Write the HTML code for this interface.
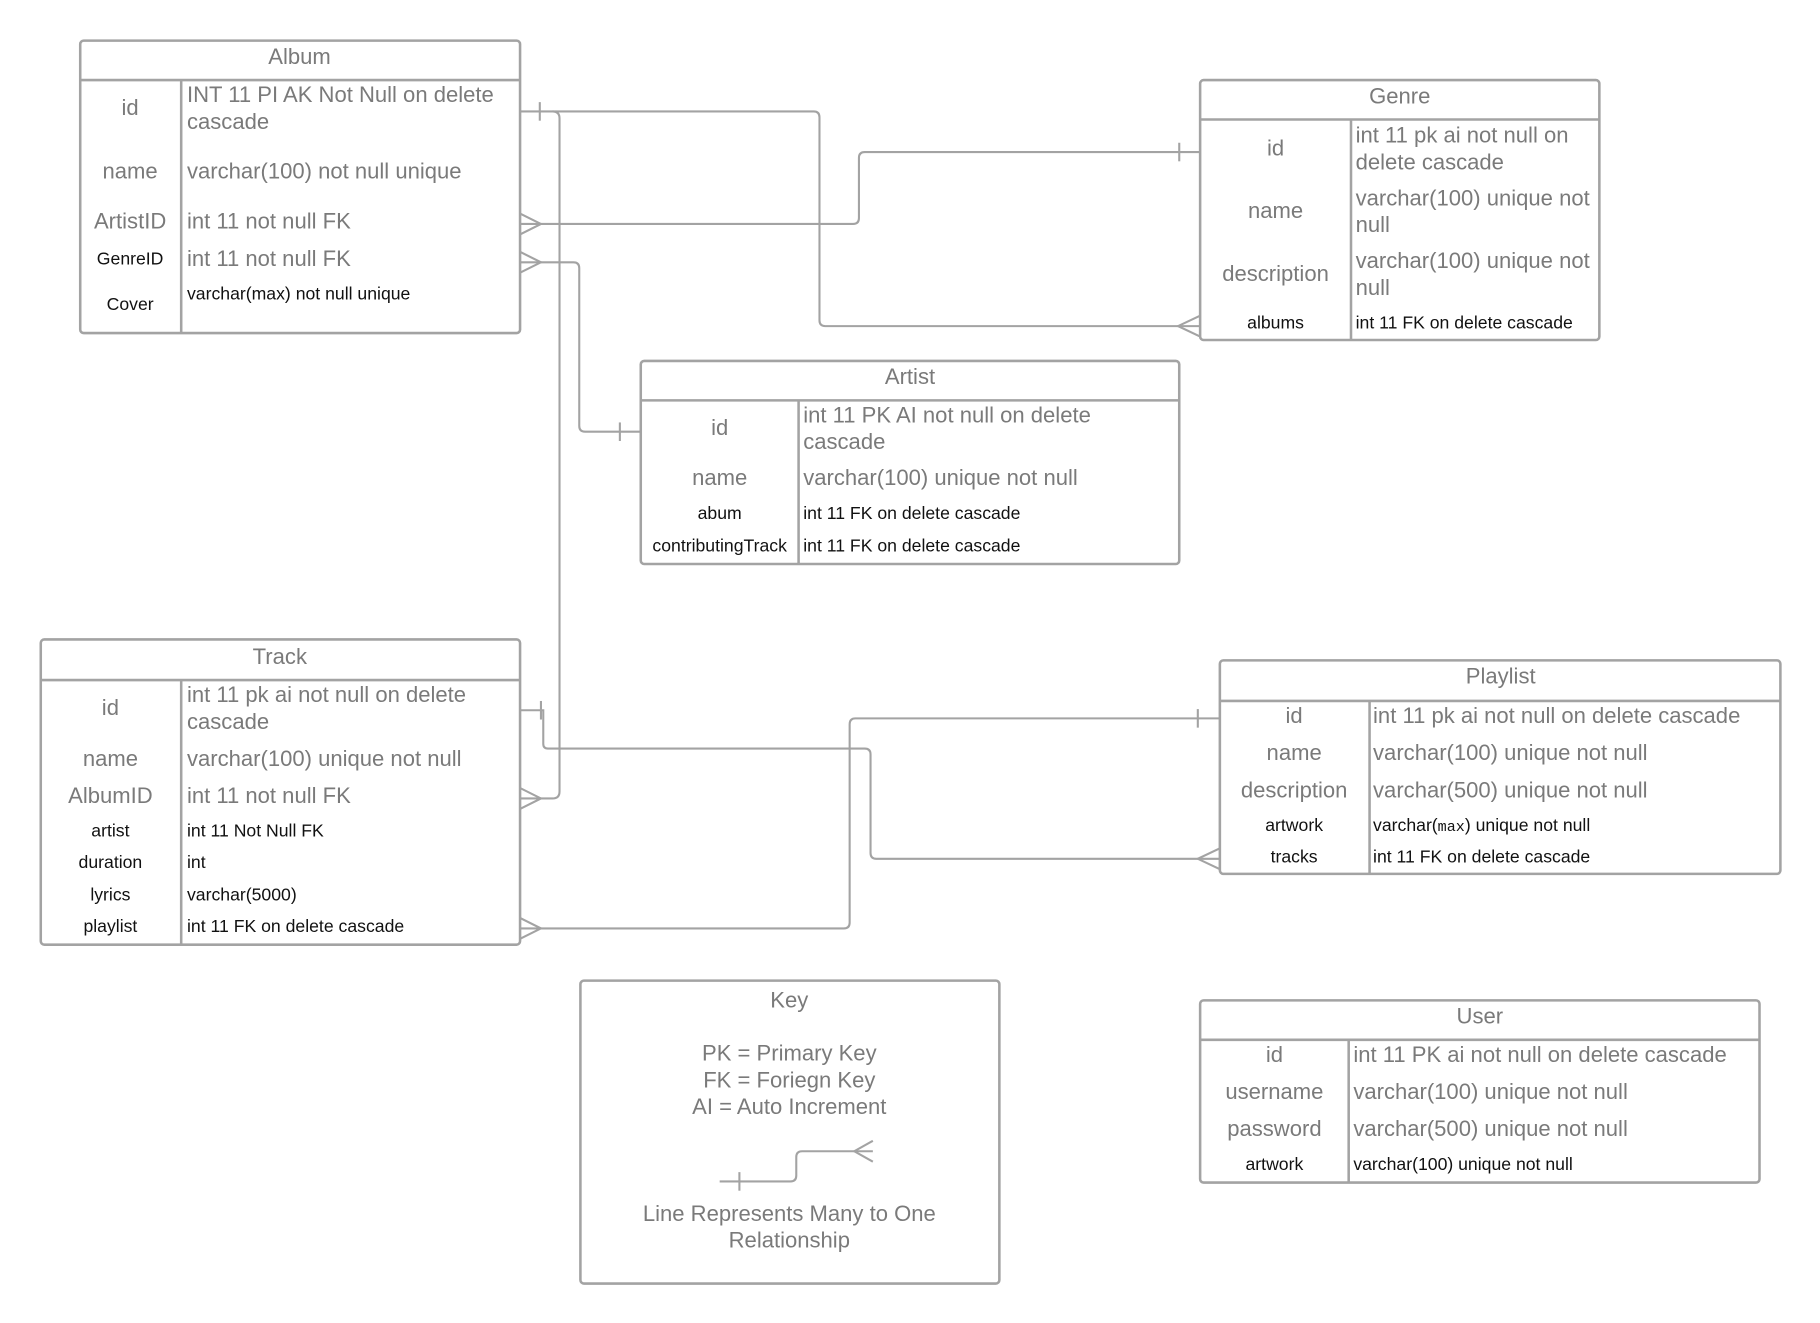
<!DOCTYPE html>
<html><head><meta charset="utf-8"><style>
html,body{margin:0;padding:0;background:#fff;}
svg{display:block;}
text{font-family:"Liberation Sans",sans-serif;}
.g{fill:#7a7a7a;font-size:19px;}
.s{fill:#111;font-size:15.2px;}
.h{fill:#7a7a7a;font-size:19px;}
.c{text-anchor:middle;}
.box{fill:none;stroke:#a3a3a3;stroke-width:2.2;}
.ln{fill:none;stroke:#a3a3a3;stroke-width:1.8;}
</style></head><body>
<svg width="1820" height="1323" viewBox="0 0 1568 1140" xmlns="http://www.w3.org/2000/svg">
<rect width="1568" height="1140" fill="#fff"/>

<!-- Album -->
<rect class="box" x="69" y="35" width="379" height="252" rx="3"/>
<line class="box" x1="69" y1="69" x2="448" y2="69"/>
<line class="box" x1="156" y1="69" x2="156" y2="287"/>
<text class="h c" x="258" y="55">Album</text>
<text class="g c" x="112" y="99">id</text>
<text class="g" x="161" y="88">INT 11 PI AK Not Null on delete</text>
<text class="g" x="161" y="111">cascade</text>
<text class="g c" x="112" y="154">name</text>
<text class="g" x="161" y="154">varchar(100) not null unique</text>
<text class="g c" x="112" y="197">ArtistID</text>
<text class="g" x="161" y="197">int 11 not null FK</text>
<text class="s c" x="112" y="228">GenreID</text>
<text class="g" x="161" y="229">int 11 not null FK</text>
<text class="s c" x="112" y="267">Cover</text>
<text class="s" x="161" y="258">varchar(max) not null unique</text>

<!-- Genre -->
<rect class="box" x="1034" y="69" width="344" height="224" rx="3"/>
<line class="box" x1="1034" y1="103" x2="1378" y2="103"/>
<line class="box" x1="1164" y1="103" x2="1164" y2="293"/>
<text class="h c" x="1206" y="89">Genre</text>
<text class="g c" x="1099" y="134">id</text>
<text class="g" x="1168" y="123">int 11 pk ai not null on</text>
<text class="g" x="1168" y="146">delete cascade</text>
<text class="g c" x="1099" y="188">name</text>
<text class="g" x="1168" y="177">varchar(100) unique not</text>
<text class="g" x="1168" y="200">null</text>
<text class="g c" x="1099" y="242">description</text>
<text class="g" x="1168" y="231">varchar(100) unique not</text>
<text class="g" x="1168" y="254">null</text>
<text class="s c" x="1099" y="283">albums</text>
<text class="s" x="1168" y="283">int 11 FK on delete cascade</text>

<!-- Artist -->
<rect class="box" x="552" y="311" width="464" height="175" rx="3"/>
<line class="box" x1="552" y1="345" x2="1016" y2="345"/>
<line class="box" x1="688" y1="345" x2="688" y2="486"/>
<text class="h c" x="784" y="331">Artist</text>
<text class="g c" x="620" y="375">id</text>
<text class="g" x="692" y="364">int 11 PK AI not null on delete</text>
<text class="g" x="692" y="387">cascade</text>
<text class="g c" x="620" y="418">name</text>
<text class="g" x="692" y="418">varchar(100) unique not null</text>
<text class="s c" x="620" y="447">abum</text>
<text class="s" x="692" y="447">int 11 FK  on delete cascade</text>
<text class="s c" x="620" y="475">contributingTrack</text>
<text class="s" x="692" y="475">int 11 FK on delete cascade</text>

<!-- Track -->
<rect class="box" x="35" y="551" width="413" height="263" rx="3"/>
<line class="box" x1="35" y1="586" x2="448" y2="586"/>
<line class="box" x1="156" y1="586" x2="156" y2="814"/>
<text class="h c" x="241" y="572">Track</text>
<text class="g c" x="95" y="616">id</text>
<text class="g" x="161" y="605">int 11 pk ai not null on delete</text>
<text class="g" x="161" y="628">cascade</text>
<text class="g c" x="95" y="660">name</text>
<text class="g" x="161" y="660">varchar(100) unique not null</text>
<text class="g c" x="95" y="692">AlbumID</text>
<text class="g" x="161" y="692">int 11 not null FK</text>
<text class="s c" x="95" y="721">artist</text>
<text class="s" x="161" y="721">int 11 Not Null FK</text>
<text class="s c" x="95" y="748">duration</text>
<text class="s" x="161" y="748">int</text>
<text class="s c" x="95" y="776">lyrics</text>
<text class="s" x="161" y="776">varchar(5000)</text>
<text class="s c" x="95" y="803">playlist</text>
<text class="s" x="161" y="803">int 11 FK on delete cascade</text>

<!-- Playlist -->
<rect class="box" x="1051" y="569" width="483" height="184" rx="3"/>
<line class="box" x1="1051" y1="604" x2="1534" y2="604"/>
<line class="box" x1="1180" y1="604" x2="1180" y2="753"/>
<text class="h c" x="1293" y="589">Playlist</text>
<text class="g c" x="1115" y="623">id</text>
<text class="g" x="1183" y="623">int 11 pk ai not null on delete cascade</text>
<text class="g c" x="1115" y="655">name</text>
<text class="g" x="1183" y="655">varchar(100) unique not null</text>
<text class="g c" x="1115" y="687">description</text>
<text class="g" x="1183" y="687">varchar(500) unique not null</text>
<text class="s c" x="1115" y="716">artwork</text>
<text class="s" x="1183" y="716">varchar(<tspan font-family="Liberation Mono, monospace" font-size="13">max</tspan>) unique not null</text>
<text class="s c" x="1115" y="743">tracks</text>
<text class="s" x="1183" y="743">int 11 FK on delete cascade</text>

<!-- User -->
<rect class="box" x="1034" y="862" width="482" height="157" rx="3"/>
<line class="box" x1="1034" y1="896" x2="1516" y2="896"/>
<line class="box" x1="1162" y1="896" x2="1162" y2="1019"/>
<text class="h c" x="1275" y="882">User</text>
<text class="g c" x="1098" y="915">id</text>
<text class="g" x="1166" y="915">int 11 PK ai not null on delete cascade</text>
<text class="g c" x="1098" y="947">username</text>
<text class="g" x="1166" y="947">varchar(100) unique not null</text>
<text class="g c" x="1098" y="979">password</text>
<text class="g" x="1166" y="979">varchar(500) unique not null</text>
<text class="s c" x="1098" y="1008">artwork</text>
<text class="s" x="1166" y="1008">varchar(100) unique not null</text>

<!-- Key -->
<rect class="box" x="500" y="845" width="361" height="261" rx="3"/>
<text class="h c" x="680" y="868">Key</text>
<text class="g c" x="680" y="914">PK = Primary Key</text>
<text class="g c" x="680" y="937">FK = Foriegn Key</text>
<text class="g c" x="680" y="960">AI = Auto Increment</text>
<path class="ln" d="M620 1018 H681 Q686 1018 686 1013 V997 Q686 992 691 992 H752"/>
<line class="ln" x1="637" y1="1010" x2="637" y2="1026"/>
<path class="ln" d="M752 983 L736 992 L752 1001"/>
<text class="g c" x="680" y="1052">Line Represents Many to One</text>
<text class="g c" x="680" y="1075">Relationship</text>

<!-- Connectors -->
<path class="ln" d="M448 96 H701 Q706 96 706 101 V276 Q706 281 711 281 H1034"/>
<line class="ln" x1="465" y1="88" x2="465" y2="104"/>
<path class="ln" d="M1034 272 L1015 281 L1034 290"/>
<path class="ln" d="M448 193 H735 Q740 193 740 188 V136 Q740 131 745 131 H1034"/>
<path class="ln" d="M448 184 L466 193 L448 202"/>
<line class="ln" x1="1016" y1="123" x2="1016" y2="139"/>
<path class="ln" d="M448 226 H494 Q499 226 499 231 V367 Q499 372 504 372 H552"/>
<path class="ln" d="M448 217 L466 226 L448 235"/>
<line class="ln" x1="534" y1="364" x2="534" y2="380"/>
<path class="ln" d="M476 96 Q482 96 482 102 V682 Q482 688 476 688 H448"/>
<path class="ln" d="M448 679 L466 688 L448 697"/>
<path class="ln" d="M448 612 H468 V641 Q468 645 472 645 H745 Q750 645 750 650 V735 Q750 740 755 740 H1051"/>
<line class="ln" x1="466" y1="604" x2="466" y2="620"/>
<path class="ln" d="M1051 731 L1032 740 L1051 749"/>
<path class="ln" d="M448 800 H727 Q732 800 732 795 V624 Q732 619 737 619 H1051"/>
<path class="ln" d="M448 791 L466 800 L448 809"/>
<line class="ln" x1="1032" y1="611" x2="1032" y2="627"/>
</svg>
</body></html>
